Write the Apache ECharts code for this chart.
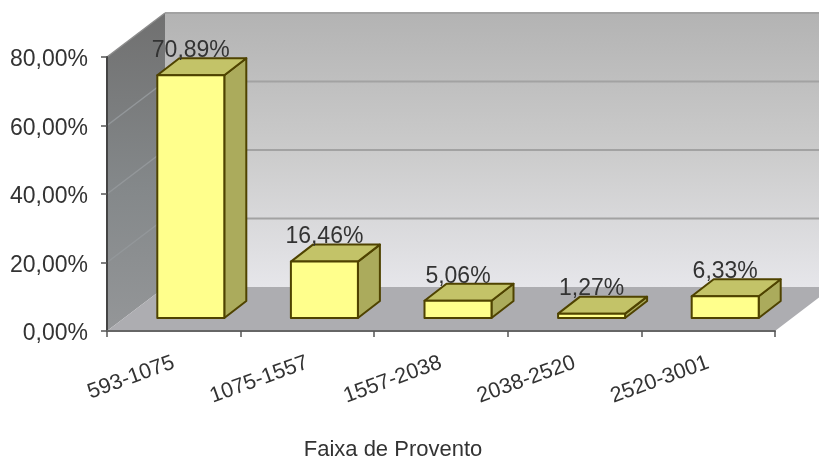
<!DOCTYPE html>
<html><head><meta charset="utf-8">
<style>html,body{margin:0;padding:0;background:#fff}#c{width:819px;height:461px;filter:blur(0.7px)}</style>
<script src="https://cdn.jsdelivr.net/npm/echarts@6/dist/echarts.min.js"></script>
</head><body><div id="c"></div>
<script>
const categories = ['593-1075','1075-1557','1557-2038','2038-2520','2520-3001'];
const values = [70.89,16.46,5.06,1.27,6.33];
const wallTicks = [0,20,40,60,80];
const axisTitle = 'Faixa de Provento';

const FONT = '"Liberation Sans", Arial, sans-serif';
const fmt = v => v.toFixed(2).replace('.', ',') + '%';
const WALL = [58,-44];        // depth of the floor, px
const BAR_FRONT = [17,-13];   // offset of bar front from axis plane
const BAR_DEPTH = [22,-17];   // depth of each bar
const chart = echarts.init(document.getElementById('c'));

function renderWall(params, api) {
  const bw = api.size([1,0])[0];
  const o = api.coord([0,0]); const xL = o[0]-bw/2, xR = xL+bw*categories.length;
  const y0 = o[1], yT = api.coord([0,80])[1];
  const dx = WALL[0], dy = WALL[1];
  const kids = [
    {type:'polygon',shape:{points:[[xL+dx,yT+dy],[xR+dx,yT+dy],[xR+dx,y0+dy],[xL+dx,y0+dy]]},
     style:{fill:{type:'linear',x:0,y:0,x2:0,y2:1,colorStops:[{offset:0,color:'#b3b3b3'},{offset:0.5,color:'#cbcbcb'},{offset:1,color:'#e6e6ea'}]}}},
    {type:'polygon',shape:{points:[[xL,y0],[xL+dx,y0+dy],[xL+dx,yT+dy],[xL,yT]]},
     style:{fill:{type:'linear',x:0,y:0,x2:0,y2:1,colorStops:[{offset:0,color:'#707070'},{offset:0.55,color:'#84888a'},{offset:1,color:'#949698'}]}}},
    {type:'polygon',shape:{points:[[xL,y0],[xL+dx,y0+dy],[xR+dx,y0+dy],[xR,y0]]},style:{fill:'#adadb1'}}
  ];
  wallTicks.slice(1).forEach(t => {
    const y = api.coord([0,t])[1];
    kids.push({type:'line',shape:{x1:xL+dx,y1:y+dy,x2:xR+dx,y2:y+dy},style:{stroke:'#a2a2a2',lineWidth:2}});
    kids.push({type:'line',shape:{x1:xL,y1:y,x2:xL+dx,y2:y+dy},style:{stroke:t===80?'#8c8c8c':'#93979a',lineWidth:1.5}});
  });
  return {type:'group',children:kids};
}

function renderBar(params, api) {
  const p = api.coord([api.value(0),api.value(1)]);
  const b = api.coord([api.value(0),0]);
  const hw = 33.5;
  const x0 = p[0]+BAR_FRONT[0]-hw, x1 = p[0]+BAR_FRONT[0]+hw;
  const yB = b[1]+BAR_FRONT[1], yT = p[1]+BAR_FRONT[1];
  const dx = BAR_DEPTH[0], dy = BAR_DEPTH[1];
  const line = {stroke:'#4f4300',lineWidth:2,lineJoin:'round'};
  return {type:'group',children:[
    {type:'polygon',shape:{points:[[x1,yB],[x1+dx,yB+dy],[x1+dx,yT+dy],[x1,yT]]},style:Object.assign({fill:'#abab5c'},line)},
    {type:'polygon',shape:{points:[[x0,yT],[x1,yT],[x1+dx,yT+dy],[x0+dx,yT+dy]]},style:Object.assign({fill:'#c3c368'},line)},
    {type:'polygon',shape:{points:[[x0,yB],[x1,yB],[x1,yT],[x0,yT]]},style:Object.assign({fill:'#ffff8c'},line)},
    {type:'text',style:{text:fmt(api.value(1)),x:p[0]+BAR_FRONT[0],y:yT+dy+4,align:'center',verticalAlign:'bottom',
      font:'23px '+FONT,fill:'#333'}}
  ]};
}

chart.setOption({
  animation:false,
  backgroundColor:'#fff',
  title:{text:axisTitle,left:393,top:439,textAlign:'center',padding:0,
    textStyle:{fontFamily:FONT,fontSize:22,fontWeight:'normal',color:'#333'}},
  grid:{left:107,right:44,top:57,bottom:130},
  xAxis:{type:'category',data:categories,z:3,
    axisLine:{lineStyle:{color:'#666',width:2}},
    axisTick:{show:true,length:6,lineStyle:{color:'#555',width:1.5}},
    axisLabel:{rotate:20,interval:0,fontFamily:FONT,fontSize:21.5,color:'#333',margin:31}},
  yAxis:{type:'value',min:0,max:80,interval:20,z:3,
    splitLine:{show:false},
    axisLine:{show:true,lineStyle:{color:'#444',width:2}},
    axisTick:{show:true,length:6,lineStyle:{color:'#555',width:1.5}},
    axisLabel:{formatter:v => '{a|' + fmt(v) + '}',margin:19,
      rich:{a:{fontFamily:FONT,fontSize:23,color:'#333',padding:[6,0,0,0]}}}},
  series:[
    {type:'custom',coordinateSystem:'cartesian2d',clip:false,silent:true,z:1,data:[[0,0]],renderItem:renderWall,encode:{x:0,y:1}},
    {type:'custom',coordinateSystem:'cartesian2d',clip:false,z:2,data:values.map((v,i)=>[i,v]),renderItem:renderBar,encode:{x:0,y:1}}
  ]
});
</script></body></html>
